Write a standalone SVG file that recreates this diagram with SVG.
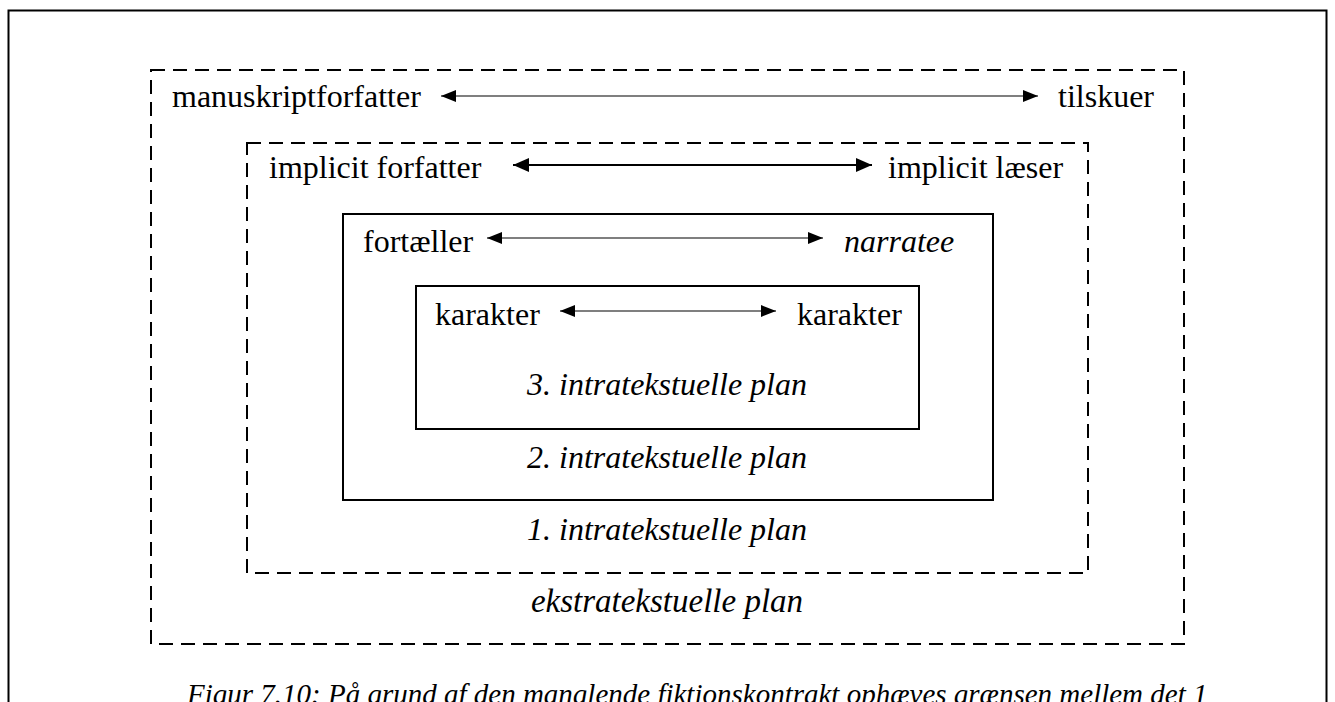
<svg xmlns="http://www.w3.org/2000/svg" width="1335" height="702" viewBox="0 0 1335 702">
  <style>
    text { font-family: "Liberation Serif", "Times New Roman", serif; font-size: 32px; fill: #000; }
    .it { font-style: italic; }
    .mid { text-anchor: middle; }
    .cap { font-size: 29px; }
    .dash { fill: none; stroke: #000; stroke-width: 2; stroke-dasharray: 14 8; }
    .solid { fill: none; stroke: #000; stroke-width: 2; }
    .thin { fill: none; stroke: #000; stroke-width: 1.2; }
    .thick { fill: none; stroke: #000; stroke-width: 2.2; }
  </style>
  <defs>
    <marker id="headS" viewBox="0 0 15 12" refX="15" refY="6" markerUnits="userSpaceOnUse" markerWidth="15" markerHeight="12" orient="auto-start-reverse">
      <path d="M0,0 L15,6 L0,12 Z" fill="#000"/>
    </marker>
    <marker id="headL" viewBox="0 0 16 14" refX="16" refY="7" markerUnits="userSpaceOnUse" markerWidth="16" markerHeight="14" orient="auto-start-reverse">
      <path d="M0,0 L16,7 L0,14 Z" fill="#000"/>
    </marker>
  </defs>

  <rect width="1335" height="702" fill="#fff"/>

  <!-- page frame -->
  <rect x="8.5" y="10.5" width="1318" height="720" fill="none" stroke="#000" stroke-width="2"/>

  <!-- extratextual level -->
  <g id="ekstratekstuelle">
    <rect class="dash" x="151" y="70" width="1033" height="574"/>
    <text x="172" y="107">manuskriptforfatter</text>
    <text x="1058" y="107">tilskuer</text>
    <text class="it mid" x="667" y="612" style="font-size:33px">ekstratekstuelle plan</text>
  </g>

  <!-- first intratextual level -->
  <g id="intra1">
    <rect class="dash" x="247" y="143" width="841" height="430"/>
    <text x="269" y="178">implicit forfatter</text>
    <text x="888" y="178">implicit læser</text>
    <text class="it mid" x="667" y="540">1. intratekstuelle plan</text>
  </g>

  <!-- second intratextual level -->
  <g id="intra2">
    <rect class="solid" x="343" y="214" width="650" height="286"/>
    <text x="363" y="252">fortæller</text>
    <text class="it" x="844" y="252">narratee</text>
    <text class="it mid" x="667" y="468">2. intratekstuelle plan</text>
  </g>

  <!-- third intratextual level -->
  <g id="intra3">
    <rect class="solid" x="416" y="286" width="503" height="143"/>
    <text x="435" y="325">karakter</text>
    <text x="797" y="325">karakter</text>
    <text class="it mid" x="667" y="395">3. intratekstuelle plan</text>
  </g>

  <!-- communication arrows -->
  <g id="connectors">
    <line class="thin" x1="441" y1="96" x2="1038" y2="96" marker-start="url(#headS)" marker-end="url(#headS)"/>
    <line class="thick" x1="513" y1="165" x2="872" y2="165" marker-start="url(#headL)" marker-end="url(#headL)"/>
    <line class="thin" x1="487" y1="238" x2="823" y2="238" marker-start="url(#headS)" marker-end="url(#headS)"/>
    <line class="thin" x1="560" y1="311" x2="776" y2="311" marker-start="url(#headS)" marker-end="url(#headS)"/>
  </g>

  <!-- caption -->
  <text class="it cap" x="187" y="704">Figur 7.10: På grund af den manglende fiktionskontrakt ophæves grænsen mellem det 1</text>
</svg>
